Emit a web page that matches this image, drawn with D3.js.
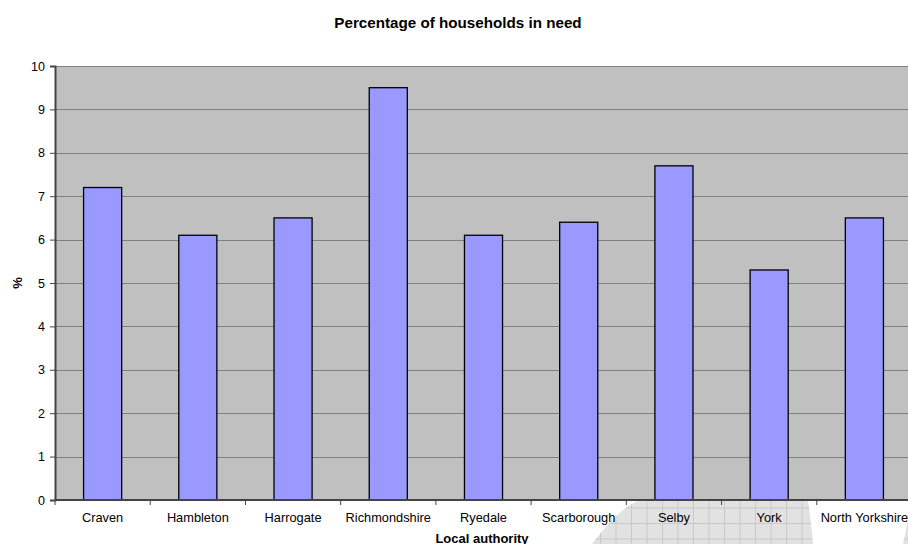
<!DOCTYPE html>
<html><head><meta charset="utf-8">
<script src="https://cdn.jsdelivr.net/npm/d3@7/dist/d3.min.js"></script>
<style>body{margin:0;background:#fff;overflow:hidden}svg{display:block;font-family:"Liberation Sans",Arial,sans-serif}</style>
</head><body>
<svg id="c" width="908" height="544"></svg>
<script>
const categories = ["Craven","Hambleton","Harrogate","Richmondshire","Ryedale","Scarborough","Selby","York","North Yorkshire"];
const values = [7.2,6.1,6.5,9.5,6.1,6.4,7.7,5.3,6.5];
const yTicks = [0,1,2,3,4,5,6,7,8,9,10];
const title = "Percentage of households in need";
const xTitle = "Local authority";
const yTitle = "%";

const svg = d3.select("#c");
const L = 55, T = 66, R = 912, B = 500;

// background watermark decoration
const deco = svg.append("g");
const clip = deco.append("clipPath").attr("id","wm");
clip.append("path").attr("d","M592,544 C610,520 625,506 640,500 L808,500 C810,515 812,530 813,544 Z");
clip.append("path").attr("d","M903,544 L908,520 L908,544 Z");
const wg = deco.append("g").attr("clip-path","url(#wm)");
wg.append("rect").attr("x",580).attr("y",495).attr("width",330).attr("height",50).attr("fill","#e2e2e2");
for (let x = 585; x < 910; x += 15.5) wg.append("line").attr("x1",x).attr("x2",x).attr("y1",495).attr("y2",544).attr("stroke","#c9c9c9").attr("stroke-width",1);
for (let y = 508; y < 544; y += 15.5) wg.append("line").attr("x1",580).attr("x2",910).attr("y1",y).attr("y2",y).attr("stroke","#c9c9c9").attr("stroke-width",1);

const x = d3.scaleBand().domain(categories).range([L, R]).paddingInner(0).paddingOuter(0);
const y = d3.scaleLinear().domain([0,10]).range([B, T]);

svg.append("rect").attr("x",L).attr("y",T).attr("width",R-L).attr("height",B-T).attr("fill","#c0c0c0");

// gridlines
svg.append("g").selectAll("line").data(yTicks.filter(d=>d>0)).join("line")
  .attr("x1",L).attr("x2",R).attr("y1",d=>Math.round(y(d))+0.5).attr("y2",d=>Math.round(y(d))+0.5)
  .attr("stroke","#808080").attr("stroke-width",1);

// bars
const bw = x.bandwidth()*0.4;
svg.append("g").selectAll("rect").data(values).join("rect")
  .attr("x",(d,i)=>x(categories[i]) + x.bandwidth()/2 - bw/2)
  .attr("y",d=>y(d))
  .attr("width",bw)
  .attr("height",d=>B-y(d))
  .attr("fill","#9999ff").attr("stroke","#000").attr("stroke-width",1.3);

// y axis
const yAxis = d3.axisLeft(y).tickValues(yTicks).tickSize(5).tickPadding(5).tickFormat(d3.format("d"));
const ya = svg.append("g").attr("transform",`translate(${L},0)`).call(yAxis);
ya.select(".domain").attr("stroke","#444").attr("stroke-width",2);
ya.selectAll(".tick line").attr("stroke","#444");
ya.selectAll("text").attr("font-size",12.5).attr("fill","#000").attr("font-family","Liberation Sans, Arial");

// x axis
const xa = svg.append("g").attr("transform",`translate(0,${B})`);
xa.append("line").attr("x1",L).attr("x2",R).attr("y1",0).attr("y2",0).attr("stroke","#444").attr("stroke-width",2);
xa.selectAll(".tk").data(categories).join("line").attr("class","tk")
  .attr("x1",d=>x(d)).attr("x2",d=>x(d)).attr("y1",0).attr("y2",5).attr("stroke","#444");
xa.selectAll(".lb").data(categories).join("text").attr("class","lb")
  .attr("x",d=>x(d)+x.bandwidth()/2).attr("y",22).attr("text-anchor","middle")
  .attr("font-size",12.8).attr("fill","#000").text(d=>d);

svg.append("text").attr("x",458).attr("y",28).attr("text-anchor","middle")
  .attr("font-size",15.2).attr("font-weight","bold").text(title);
svg.append("text").attr("x",482).attr("y",543).attr("text-anchor","middle")
  .attr("font-size",13).attr("font-weight","bold").text(xTitle);
svg.append("text").attr("transform","translate(22,283) rotate(-90)").attr("text-anchor","middle")
  .attr("font-size",13).attr("font-weight","bold").text(yTitle);
</script>
</body></html>
